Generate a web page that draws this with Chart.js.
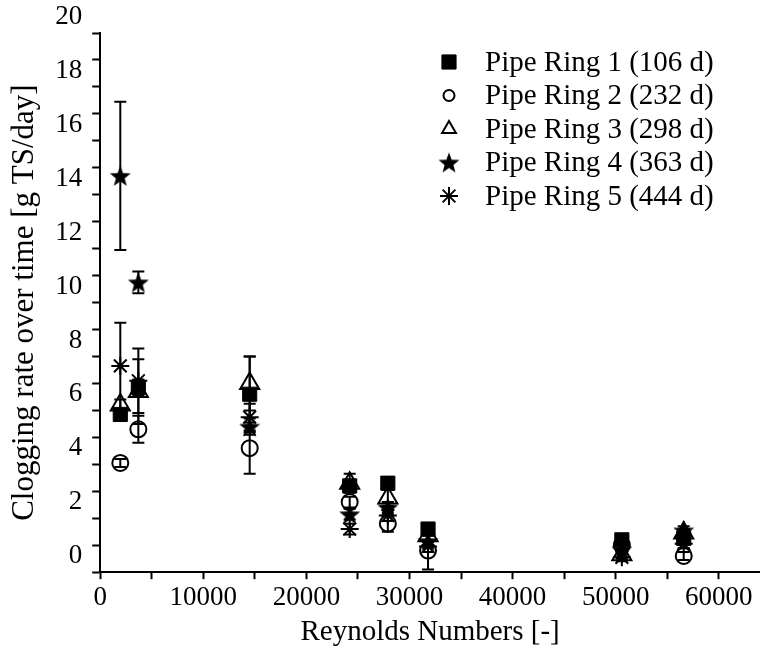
<!DOCTYPE html>
<html>
<head>
<meta charset="utf-8">
<script src="https://cdn.jsdelivr.net/npm/chart.js@4/dist/chart.umd.min.js"></script>
<style>
html, body { margin: 0; padding: 0; background: #fff; }
</style>
</head>
<body>
<canvas id="clogChart" width="760" height="648"></canvas>
<script>
// Reynolds numbers of the sampling points (same for every pipe ring)
var reynolds = [1950, 3700, 14500, 24200, 27900, 31800, 50600, 56600];

// clogging rate [g TS/day] and its standard deviation, per pipe ring
var ring1 = [5.85, 6.85, 6.6, 3.2, 3.3, 1.6, 1.2, 1.25];
var ring1Err = [0.2, 0.3, 1.4, 0.2, 0.2, 0.2, 0.15, 0.15];
var ring2 = [4.05, 5.3, 4.6, 2.6, 1.8, 0.8, 1.0, 0.6];
var ring2Err = [0.15, 0.5, 0.95, 0.2, 0.3, 0.7, 0.15, 0.15];
var ring3 = [6.2, 6.7, 7.0, 3.3, 2.75, 1.35, 0.65, 1.45];
var ring3Err = [0.2, 1.2, 1.0, 0.35, 0.3, 0.2, 0.15, 0.15];
var ring4 = [14.7, 10.75, 5.4, 2.15, 2.4, 1.15, 0.85, 1.55];
var ring4Err = [2.75, 0.4, 0.3, 0.2, 0.2, 0.2, 0.15, 0.15];
var ring5 = [7.65, 7.1, 5.75, 1.6, 2.1, 0.95, 0.55, 1.05];
var ring5Err = [1.6, 1.2, 0.5, 0.2, 0.2, 0.2, 0.15, 0.15];

var ringLabels = ['Pipe Ring 1 (106 d)', 'Pipe Ring 2 (232 d)', 'Pipe Ring 3 (298 d)',
                  'Pipe Ring 4 (363 d)', 'Pipe Ring 5 (444 d)'];

// tick positions (labels only on every second one)
var xTickValues = [0, 5000, 10000, 15000, 20000, 25000, 30000, 35000, 40000, 45000, 50000, 55000, 60000];
var yTickValues = [0, 1, 2, 3, 4, 5, 6, 7, 8, 9, 10, 11, 12, 13, 14, 15, 16, 17, 18, 19, 20];

var serif = "'Liberation Serif', 'Times New Roman', serif";

// filled five point star, used as a point style
function makeStar(size) {
  var c = document.createElement('canvas');
  c.width = size; c.height = size;
  var g = c.getContext('2d');
  var cx = size / 2, cy = size / 2 + 1, ro = size / 2, ri = ro * 0.42;
  g.beginPath();
  for (var k = 0; k < 10; k++) {
    var r = k % 2 === 0 ? ro : ri;
    var a = -Math.PI / 2 + k * Math.PI / 5;
    g.lineTo(cx + r * Math.cos(a), cy + r * Math.sin(a));
  }
  g.closePath();
  g.fillStyle = '#000';
  g.fill();
  return c;
}
var starImg = makeStar(22);

function toPoints(ys) {
  var pts = [];
  for (var i = 0; i < ys.length; i++) pts.push({x: reynolds[i], y: ys[i]});
  return pts;
}

var datasets = [
  {label: ringLabels[0], data: toPoints(ring1), errors: ring1Err, pointStyle: 'rect',
   pointRadius: 10, backgroundColor: '#000', borderColor: '#000', borderWidth: 1},
  {label: ringLabels[1], data: toPoints(ring2), errors: ring2Err, pointStyle: 'circle',
   pointRadius: 8, backgroundColor: 'rgba(0,0,0,0)', borderColor: '#000', borderWidth: 2},
  {label: ringLabels[2], data: toPoints(ring3), errors: ring3Err, pointStyle: 'triangle',
   pointRadius: 11, backgroundColor: 'rgba(0,0,0,0)', borderColor: '#000', borderWidth: 2},
  {label: ringLabels[3], data: toPoints(ring4), errors: ring4Err, pointStyle: starImg,
   pointRadius: 10, backgroundColor: '#000', borderColor: '#000', borderWidth: 1},
  {label: ringLabels[4], data: toPoints(ring5), errors: ring5Err, pointStyle: 'star',
   pointRadius: 9, backgroundColor: 'rgba(0,0,0,0)', borderColor: '#000', borderWidth: 2}
];

// vertical error bars with caps
var errorBars = {
  id: 'errorBars',
  beforeDatasetsDraw: function(chart) {
    var ctx = chart.ctx, xs = chart.scales.x, ys = chart.scales.y;
    ctx.save();
    ctx.strokeStyle = '#000';
    ctx.lineWidth = 2;
    chart.data.datasets.forEach(function(ds) {
      ds.data.forEach(function(p, i) {
        var e = ds.errors[i];
        if (!e) return;
        var px = xs.getPixelForValue(p.x);
        var top = ys.getPixelForValue(p.y + e);
        var bot = ys.getPixelForValue(p.y - e);
        ctx.beginPath();
        ctx.moveTo(px, top); ctx.lineTo(px, bot);
        ctx.moveTo(px - 6, top); ctx.lineTo(px + 6, top);
        ctx.moveTo(px - 6, bot); ctx.lineTo(px + 6, bot);
        ctx.stroke();
      });
    });
    ctx.restore();
  }
};

// legend drawn inside the plot, top right
var innerLegend = {
  id: 'innerLegend',
  afterDraw: function(chart) {
    var ctx = chart.ctx;
    var sizes = [10, 5.5, 8, 10, 9];
    ctx.save();
    ctx.font = '29px ' + serif;
    ctx.textBaseline = 'middle';
    chart.data.datasets.forEach(function(ds, i) {
      var y = 62 + i * 33.5;
      ctx.fillStyle = ds.backgroundColor;
      ctx.strokeStyle = '#000';
      ctx.lineWidth = ds.borderWidth;
      Chart.helpers.drawPoint(ctx, {pointStyle: ds.pointStyle, radius: sizes[i],
        borderWidth: ds.borderWidth, rotation: 0}, 449, y);
      ctx.fillStyle = '#000';
      ctx.fillText(ds.label, 485, y + 1);
    });
    ctx.restore();
  }
};

function fixedTicks(values) {
  return function(scale) {
    scale.ticks = values.map(function(v) { return {value: v}; });
  };
}

var ctx = document.getElementById('clogChart').getContext('2d');
var chart = new Chart(ctx, {
  type: 'scatter',
  data: { datasets: datasets },
  plugins: [errorBars, innerLegend],
  options: {
    responsive: false,
    animation: false,
    devicePixelRatio: 1,
    layout: { autoPadding: false, padding: { top: 33, right: 0, left: 6, bottom: 0 } },
    plugins: { legend: { display: false }, tooltip: { enabled: false } },
    scales: {
      x: {
        type: 'linear',
        min: 0,
        max: 64000,
        afterBuildTicks: fixedTicks(xTickValues),
        // the axis line runs to the right edge of the figure
        afterFit: function(scale) { scale.paddingRight = 0; },
        ticks: {
          autoSkip: false,
          maxRotation: 0,
          padding: 3,
          color: '#000',
          font: { family: serif, size: 27 },
          callback: function(v) { return v % 10000 === 0 ? String(v) : ''; }
        },
        grid: { drawOnChartArea: false, drawTicks: true, tickLength: 7, tickWidth: 2, tickColor: '#000' },
        border: { color: '#000', width: 2 },
        title: { display: true, text: 'Reynolds Numbers [-]', color: '#000',
                 font: { family: serif, size: 29, lineHeight: 1.05 }, padding: { top: 0, bottom: 0 } }
      },
      y: {
        min: 0,
        max: 20,
        afterBuildTicks: fixedTicks(yTickValues),
        ticks: {
          autoSkip: false,
          padding: 10,
          labelOffset: -16,
          color: '#000',
          font: { family: serif, size: 27 },
          callback: function(v) { return v % 2 === 0 ? String(v) : ''; }
        },
        grid: { drawOnChartArea: false, drawTicks: true, tickLength: 8, tickWidth: 2, tickColor: '#000' },
        border: { color: '#000', width: 2 },
        title: { display: true, text: 'Clogging rate over time [g TS/day]', color: '#000',
                 font: { family: serif, size: 31 }, padding: { top: 0, bottom: 2 } }
      }
    }
  }
});
</script>
</body>
</html>
